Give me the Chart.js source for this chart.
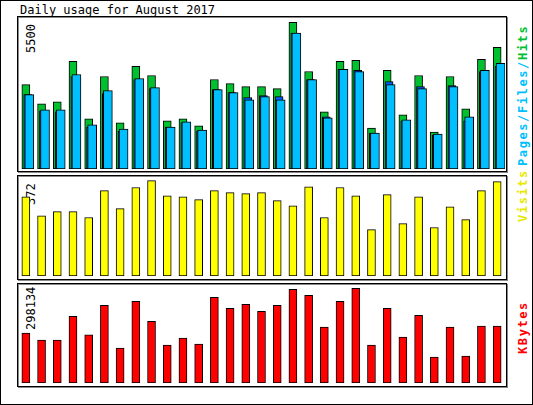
<!DOCTYPE html>
<html><head><meta charset="utf-8">
<script src="https://cdn.jsdelivr.net/npm/chart.js@4"></script>
<style>
body{margin:0;background:#fff;font-family:"DejaVu Sans Mono",monospace;}
#outer{position:absolute;left:0;top:0;width:531px;height:403px;border:1px solid #000;}
.frame{position:absolute;border:1px solid #000;box-shadow:inset 1px 1px 0 #888, 1px 1px 0 #888;}
canvas{position:absolute;}
.rot{position:absolute;transform:rotate(-90deg);transform-origin:left top;white-space:nowrap;font-size:12px;}
.rt{letter-spacing:1.6px;font-weight:bold;}
</style></head><body>
<div id="outer"></div>
<div style="position:absolute;left:20px;top:3px;font-size:12px;">Daily usage for August 2017</div>
<div class="frame" style="left:17px;top:16px;width:488px;height:154px"></div>
<div class="frame" style="left:17px;top:175px;width:488px;height:103px"></div>
<div class="frame" style="left:17px;top:283px;width:488px;height:102px"></div>
<div class="rot" style="left:24px;top:53px">5500</div>
<div class="rot" style="left:24px;top:205px">372</div>
<div class="rot" style="left:24px;top:330px">298134</div>
<div class="rot rt" style="left:516px;top:166px"><span style="color:#00bfff">Pages</span><span style="color:#00bfff">/Files/</span><span style="color:#00c030">Hits</span></div>
<div class="rot rt" style="left:516px;top:222px;color:#e8e800">Visits</div>
<div class="rot rt" style="left:516px;top:354px;color:#ff0000">KBytes</div>
<canvas id="c1" style="left:18px;top:18px;width:487px;height:151px" width="487" height="151"></canvas>
<canvas id="c2" style="left:18px;top:177px;width:487px;height:99px" width="487" height="99"></canvas>
<canvas id="c3" style="left:18px;top:285px;width:487px;height:98px" width="487" height="98"></canvas>
<canvas id="c4" style="left:18px;top:386px;width:487px;height:18px" width="487" height="18"></canvas>
<script>
const days=[1,2,3,4,5,6,7,8,9,10,11,12,13,14,15,16,17,18,19,20,21,22,23,24,25,26,27,28,29,30,31];
const weekend=[5,6,12,13,19,20,26,27];
const hits=[3163,2444,2520,4032,1877,3465,1726,3843,3503,1802,1877,1613,3352,3200,3087,3087,3011,5494,3654,2142,4032,4070,1537,3692,2029,3503,1386,3465,2255,4108,4561];
const files=[2785,2218,2218,3541,1651,2936,1499,3389,3049,1575,1764,1462,2974,2860,2596,2709,2596,5090,3352,1915,3730,3654,1348,3163,1840,3011,1310,3087,1953,3692,3956];
const pages=[2785,2180,2142,3465,1575,2822,1424,3352,3011,1575,1726,1424,2974,2860,2671,2747,2709,5090,3352,1953,3730,3692,1348,3276,1802,3087,1272,3125,1802,3654,3843];
const visits=[309,235,251,251,228,333,263,345,372,313,309,298,333,325,321,325,294,274,348,228,345,313,181,317,204,309,189,270,220,333,368];
const kbytes=[156900,134934,134934,210246,151670,244764,109830,257316,194556,119244,141210,122382,269868,235350,247902,225936,244764,294972,276144,175728,257316,298134,119244,235350,144348,213384,81588,175728,84726,178866,178866];
const hitsOff=0, pagesOff=0.12, filesOff=0.22;
function pts(arr,off){return arr.map((v,i)=>({x:days[i]+off,y:v}));}
function ds(data,color,w,order){return {data,backgroundColor:color,borderColor:'#000',borderWidth:1,barThickness:w,order,grouped:false,borderSkipped:false};}
function opts(ymax,showX,xmin){return {responsive:false,animation:false,events:[],
 layout:{padding:0},
 plugins:{legend:{display:false},tooltip:{enabled:false}},
 scales:{x:{type:'linear',offset:false,min:xmin,max:xmin+31,display:showX,position:'top',grid:{display:false},border:{display:false},
   afterBuildTicks:(a)=>{a.ticks=days.map(d=>({value:d}));},
   ticks:{autoSkip:false,maxRotation:0,padding:1,font:{family:'DejaVu Sans Mono',size:12},
     color:(c)=>weekend.includes(c.tick.value)?'#00a000':'#000',callback:(v)=>String(v)}},
  y:{min:0,max:ymax,display:false}}};}
Chart.defaults.font.family='DejaVu Sans Mono';
new Chart(document.getElementById('c1'),{type:'bar',data:{datasets:[
 ds(pts(hits,hitsOff),'#00c030',8,3),ds(pts(pages,pagesOff),'#0060ff',8,2),ds(pts(files,filesOff),'#00bfff',9,1)]},options:opts(5657,false,0.5)});
new Chart(document.getElementById('c2'),{type:'bar',data:{datasets:[ds(pts(visits,0),'#ffff00',8,1)]},options:opts(386,false,0.5)});
new Chart(document.getElementById('c3'),{type:'bar',data:{datasets:[ds(pts(kbytes,0),'#ff0000',8,1)]},options:opts(308570,false,0.5)});
new Chart(document.getElementById('c4'),{type:'bar',data:{datasets:[]},options:opts(1,true,0.3)});
</script></body></html>
